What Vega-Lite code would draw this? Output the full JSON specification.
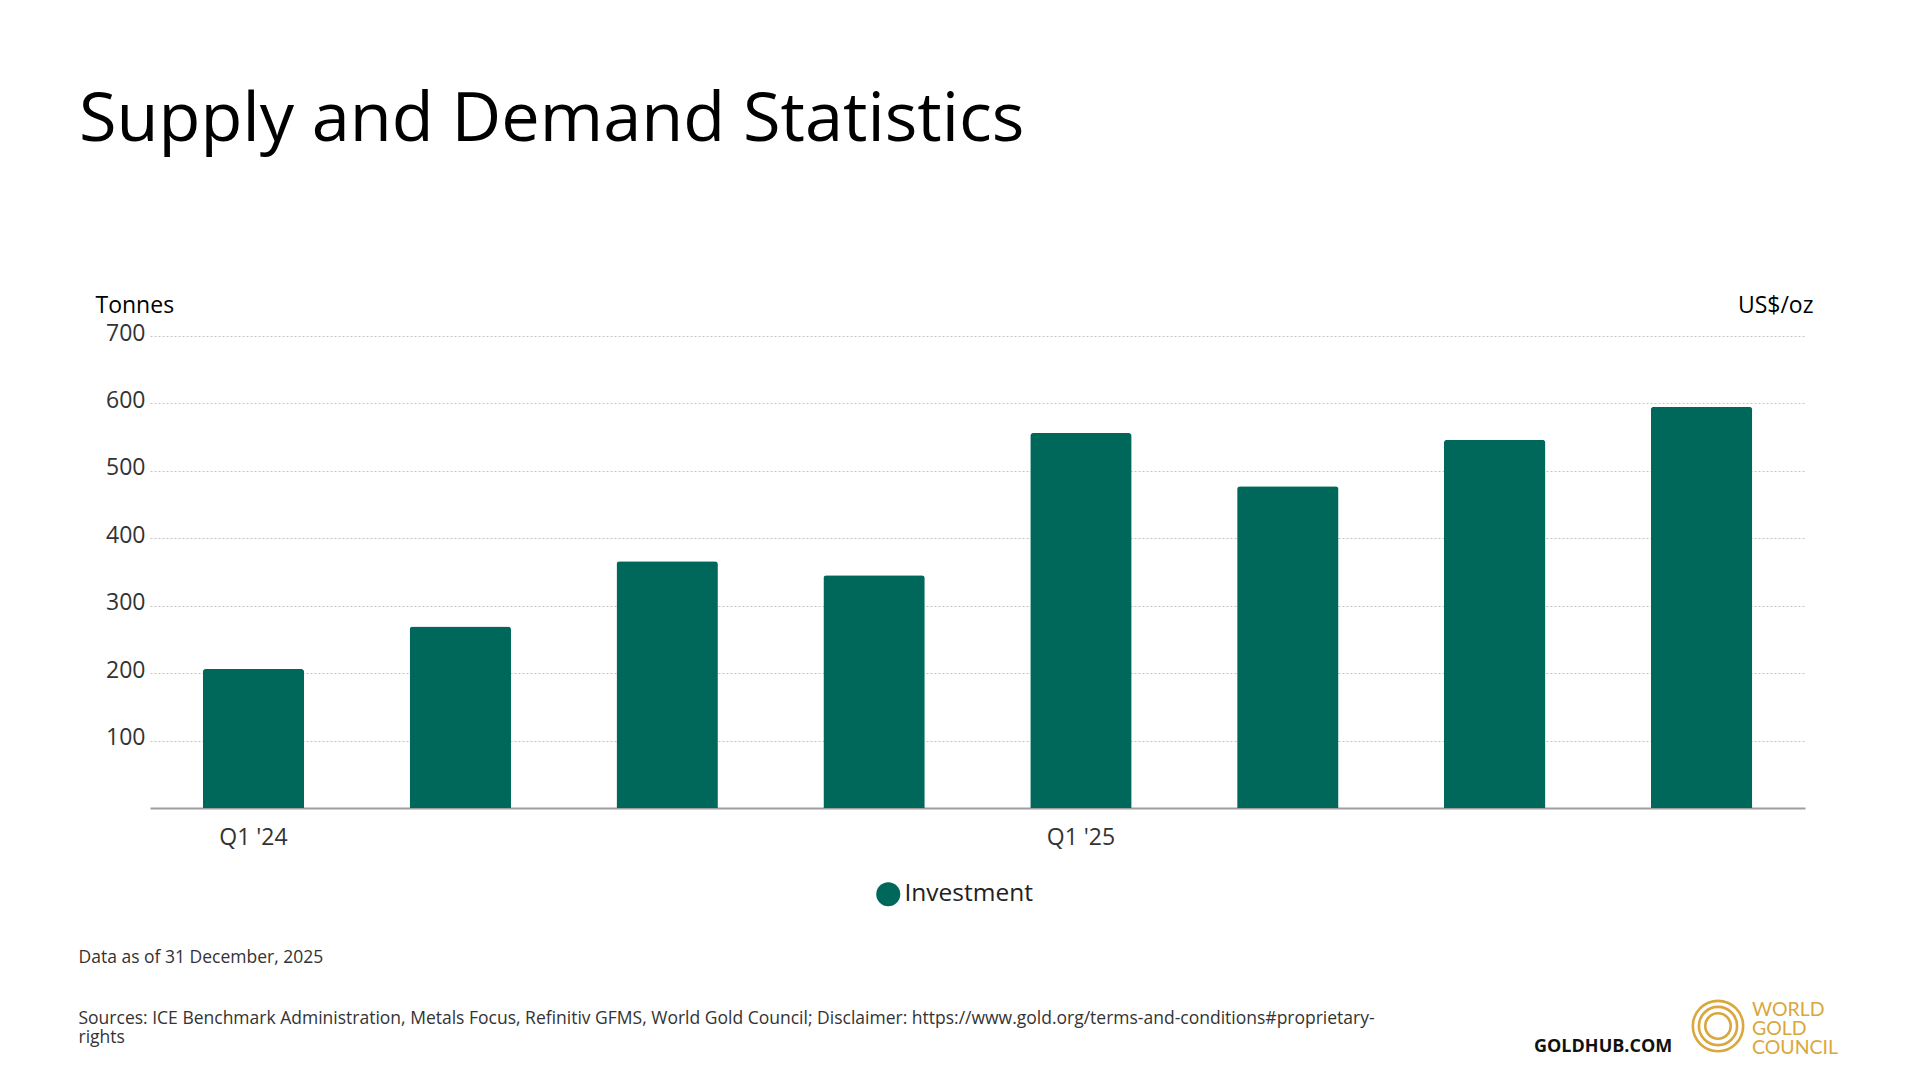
{
  "$schema": "https://vega.github.io/schema/vega-lite/v6.json",
  "autosize": {"type": "none"},
  "width": 1655,
  "height": 472,
  "padding": {"left": 150, "top": 336, "right": 115, "bottom": 272},
  "background": "white",
  "config": {"font": "Open Sans", "view": {"stroke": null}},
  "title": {
    "text": "Supply and Demand Statistics",
    "anchor": "start",
    "frame": "group",
    "fontSize": 68.5,
    "font": "Open Sans",
    "fontWeight": "normal",
    "color": "#000000",
    "dx": -71,
    "dy": -85,
    "offset": 0,
    "baseline": "alphabetic"
  },
  "data": {
    "values": [
      {"quarter": "Q1 '24", "tonnes": 206, "series": "Investment"},
      {"quarter": "Q2 '24", "tonnes": 269, "series": "Investment"},
      {"quarter": "Q3 '24", "tonnes": 366, "series": "Investment"},
      {"quarter": "Q4 '24", "tonnes": 345, "series": "Investment"},
      {"quarter": "Q1 '25", "tonnes": 556, "series": "Investment"},
      {"quarter": "Q2 '25", "tonnes": 477, "series": "Investment"},
      {"quarter": "Q3 '25", "tonnes": 546, "series": "Investment"},
      {"quarter": "Q4 '25", "tonnes": 595, "series": "Investment"}
    ]
  },
  "layer": [
    {
      "mark": {"type": "bar", "cornerRadiusTopLeft": 3, "cornerRadiusTopRight": 3},
      "encoding": {
        "x": {
          "field": "quarter",
          "type": "nominal",
          "sort": null,
          "scale": {"paddingInner": 0.51, "paddingOuter": 0.255},
          "axis": {
            "title": ["Sources: ICE Benchmark Administration, Metals Focus, Refinitiv GFMS, World Gold Council; Disclaimer: https://www.gold.org/terms-and-conditions#proprietary-", "rights"],
            "labelExpr": "slice(datum.value, 0, 2) === 'Q1' ? datum.value : ''",
            "labelAngle": 0,
            "labelFontSize": 23,
            "labelColor": "#333333",
            "labelBaseline": "alphabetic",
            "labelPadding": 36.5,
            "ticks": false,
            "tickSize": 0,
            "domainColor": "#9e9e9e",
            "domainWidth": 2,
            "grid": false,
            "titleFontSize": 17.5,
            "titleFontWeight": "normal",
            "titleColor": "#333333",
            "titleAlign": "left",
            "titleAnchor": "start",
            "titleBaseline": "alphabetic",
            "titleX": -72,
            "titleY": 215,
            "titleLineHeight": 19
          }
        },
        "y": {
          "field": "tonnes",
          "type": "quantitative",
          "scale": {"domain": [0, 700], "nice": false},
          "axis": {
            "title": "Tonnes",
            "values": [100, 200, 300, 400, 500, 600, 700],
            "domain": false,
            "ticks": false,
            "tickSize": 0,
            "labelPadding": 5,
            "labelFontSize": 23,
            "labelColor": "#333333",
            "labelBaseline": "alphabetic",
            "labelOffset": 4,
            "grid": true,
            "gridColor": "#c4c4c4",
            "gridDash": [2, 2],
            "gridWidth": 1,
            "titleAngle": 0,
            "titleAlign": "left",
            "titleBaseline": "alphabetic",
            "titleX": -55,
            "titleY": -24,
            "titleFontSize": 23,
            "titleFontWeight": "normal",
            "titleColor": "#000000"
          }
        },
        "color": {
          "field": "series",
          "type": "nominal",
          "scale": {"range": ["#00685B"]},
          "legend": {
            "orient": "none",
            "legendX": 726,
            "legendY": 546,
            "title": null,
            "padding": 0,
            "symbolType": "circle",
            "symbolSize": 576,
            "symbolStrokeWidth": 0,
            "labelFontSize": 24.5,
            "labelColor": "#222222",
            "labelOffset": 4
          }
        }
      }
    },
    {
      "mark": {"type": "point", "filled": false, "color": "#D9A73D", "opacity": 0},
      "encoding": {
        "x": {
          "field": "quarter",
          "type": "nominal",
          "sort": null,
          "axis": {
            "orient": "top",
            "labels": false,
            "ticks": false,
            "domain": false,
            "grid": false,
            "title": "Data as of 31 December, 2025",
            "titleX": -72,
            "titleY": 626,
            "titleAlign": "left",
            "titleAnchor": "start",
            "titleBaseline": "alphabetic",
            "titleFontSize": 17.5,
            "titleFontWeight": "normal",
            "titleColor": "#333333"
          }
        },
        "y": {
          "field": "tonnes",
          "type": "quantitative",
          "scale": {"domain": [0, 700], "nice": false},
          "axis": {
            "orient": "right",
            "title": "US$/oz",
            "labels": false,
            "ticks": false,
            "domain": false,
            "grid": false,
            "titleAngle": 0,
            "titleAlign": "right",
            "titleBaseline": "alphabetic",
            "titleX": 8,
            "titleY": -24,
            "titleFontSize": 23,
            "titleFontWeight": "normal",
            "titleColor": "#000000"
          }
        },
        "shape": {
          "datum": "GOLDHUB.COM",
          "type": "nominal",
          "scale": {"range": ["M0.95,0A0.95,0.95,0,1,1,-0.95,0A0.95,0.95,0,1,1,0.95,0ZM0.72,0A0.72,0.72,0,1,1,-0.72,0A0.72,0.72,0,1,1,0.72,0ZM0.48,0A0.48,0.48,0,1,1,-0.48,0A0.48,0.48,0,1,1,0.48,0Z"]},
          "legend": {
            "orient": "none",
            "legendX": 1384,
            "legendY": 662,
            "padding": 0,
            "title": "GOLDHUB.COM",
            "titleOrient": "left",
            "titleAnchor": "end",
            "titleBaseline": "bottom",
            "titleFontSize": 18,
            "titleFontWeight": "bold",
            "titleColor": "#111111",
            "titlePadding": 17,
            "symbolSize": 2809,
            "symbolStrokeWidth": 2.6,
            "symbolStrokeColor": "#D9A73D",
            "symbolFillColor": "transparent",
            "symbolOpacity": 1,
            "labelExpr": "''",
            "labelOffset": 0
          }
        },
        "strokeDash": {
          "datum": "WORLD GOLD COUNCIL",
          "type": "nominal",
          "legend": {
            "orient": "none",
            "legendX": 1602,
            "legendY": 665,
            "padding": 0,
            "title": ["WORLD", "GOLD", "COUNCIL"],
            "titleOrient": "top",
            "titleAlign": "left",
            "titleAnchor": "start",
            "titleBaseline": "top",
            "titleFont": "Lato",
            "titleFontSize": 19.5,
            "titleFontWeight": "normal",
            "titleColor": "#D9A73D",
            "titleLineHeight": 19,
            "titlePadding": 0,
            "symbolOpacity": 0,
            "symbolSize": 0,
            "labelExpr": "''"
          }
        }
      }
    }
  ],
  "resolve": {"scale": {"y": "independent", "x": "independent"}}
}
